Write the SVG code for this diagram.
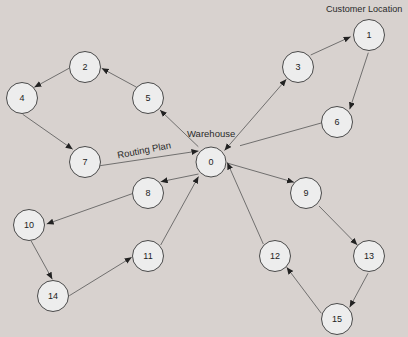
<svg xmlns="http://www.w3.org/2000/svg" width="408" height="337" viewBox="0 0 408 337">
<style>
.bg{fill:#d8d2cf}
.n circle{fill:#ededed;stroke:#4a4a4a;stroke-width:1}
.n text{font-family:"Liberation Sans",Arial,sans-serif;font-size:9px;fill:#222;text-anchor:middle;dominant-baseline:central}
.e line{stroke:#555;stroke-width:0.8;fill:none}
.a{marker-end:url(#ah)}
.lbl{font-family:"Liberation Sans",Arial,sans-serif;font-size:9.5px;fill:#2a2a2a}
</style>
<defs>
<marker id="ah" markerUnits="userSpaceOnUse" markerWidth="8" markerHeight="7" refX="7" refY="3" orient="auto-start-reverse">
<path d="M0,0 L7,3 L0,6 z" fill="#222"/>
</marker>
</defs>
<rect class="bg" x="0" y="0" width="408" height="337"/>
<g id="connectors" class="e">
<line class="a" x1="310.7" y1="55" x2="350.7" y2="36.7"/>
<line class="a" x1="368.3" y1="52.7" x2="349.7" y2="109.3"/>
<line class="a" x1="224.5" y1="150.5" x2="286.3" y2="79.3" marker-start="url(#ah)"/>
<line x1="322.3" y1="122.7" x2="240" y2="145.7"/>
<line class="a" x1="198.3" y1="146.7" x2="160" y2="110"/>
<line class="a" x1="136.7" y1="87.3" x2="101.7" y2="68.3"/>
<line class="a" x1="69" y1="68.3" x2="34.3" y2="87.3"/>
<line class="a" x1="22.7" y1="114.3" x2="72.7" y2="149.3"/>
<line class="a" x1="100" y1="165.7" x2="198.5" y2="151"/>
<line class="a" x1="198.5" y1="174" x2="160.7" y2="181.7"/>
<line class="a" x1="133.3" y1="193.3" x2="46.7" y2="224"/>
<line class="a" x1="31" y1="240.7" x2="52.3" y2="279.3"/>
<line class="a" x1="69.3" y1="295.7" x2="131.7" y2="257.3"/>
<line class="a" x1="160.7" y1="245" x2="198.5" y2="176.5"/>
<line class="a" x1="227" y1="163" x2="294" y2="182.3"/>
<line class="a" x1="319" y1="206" x2="357.3" y2="245"/>
<line class="a" x1="368" y1="273.3" x2="349.7" y2="307.3"/>
<line class="a" x1="321.3" y1="313.3" x2="286.7" y2="267.3"/>
<line class="a" x1="263.3" y1="244" x2="227.3" y2="162.5"/>
</g>
<g id="node-0" class="n"><circle cx="211" cy="162" r="15"/><text x="211" y="162">0</text></g>
<g id="node-1" class="n"><circle cx="369" cy="35" r="15.5"/><text x="369" y="35">1</text></g>
<g id="node-2" class="n"><circle cx="85" cy="67" r="15.5"/><text x="85" y="67">2</text></g>
<g id="node-3" class="n"><circle cx="298" cy="67" r="15.5"/><text x="298" y="67">3</text></g>
<g id="node-4" class="n"><circle cx="22" cy="98" r="15.5"/><text x="22" y="98">4</text></g>
<g id="node-5" class="n"><circle cx="148" cy="98" r="15.5"/><text x="148" y="98">5</text></g>
<g id="node-6" class="n"><circle cx="337" cy="122" r="15.5"/><text x="337" y="122">6</text></g>
<g id="node-7" class="n"><circle cx="85" cy="162" r="15.5"/><text x="85" y="162">7</text></g>
<g id="node-8" class="n"><circle cx="148" cy="193" r="15.5"/><text x="148" y="193">8</text></g>
<g id="node-9" class="n"><circle cx="306" cy="193" r="15.5"/><text x="306" y="193">9</text></g>
<g id="node-10" class="n"><circle cx="29" cy="225" r="15.5"/><text x="29" y="225">10</text></g>
<g id="node-11" class="n"><circle cx="148" cy="256" r="15.5"/><text x="148" y="256">11</text></g>
<g id="node-12" class="n"><circle cx="275" cy="256" r="15.5"/><text x="275" y="256">12</text></g>
<g id="node-13" class="n"><circle cx="369" cy="256" r="15.5"/><text x="369" y="256">13</text></g>
<g id="node-14" class="n"><circle cx="53" cy="296" r="15.5"/><text x="53" y="296">14</text></g>
<g id="node-15" class="n"><circle cx="337" cy="319" r="15.5"/><text x="337" y="319">15</text></g>
<g id="labels">
<text class="lbl" x="326" y="12" style="font-size:9.1px">Customer Location</text>
<text class="lbl" x="187" y="137">Warehouse</text>
<text class="lbl" x="118" y="158.5" transform="rotate(-11 118 158.5)">Routing Plan</text>
</g>
</svg>
